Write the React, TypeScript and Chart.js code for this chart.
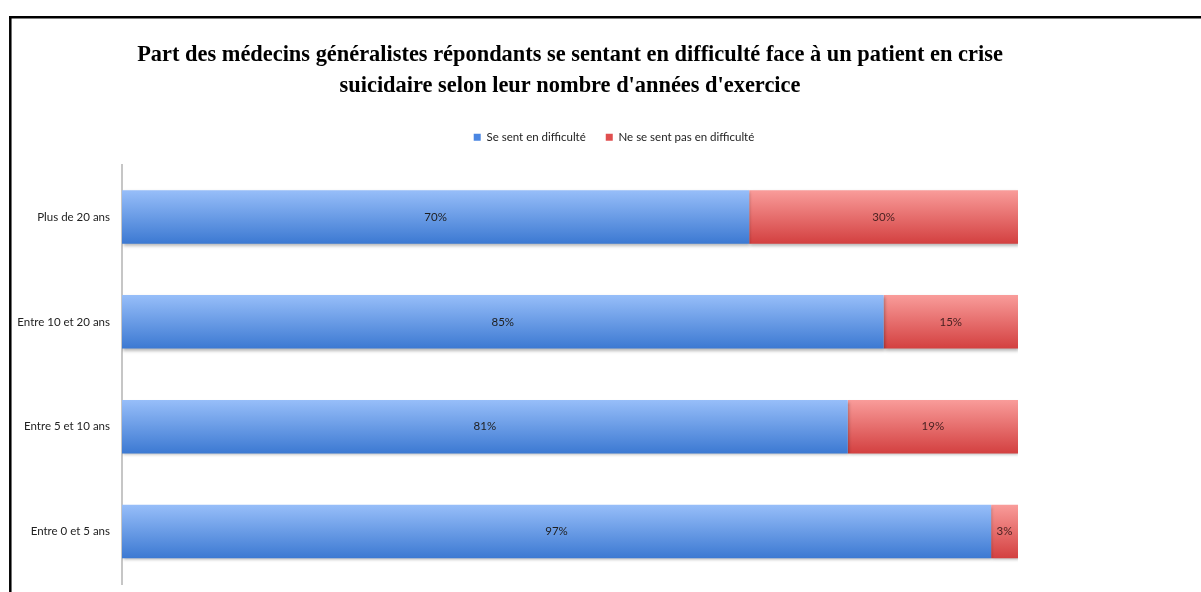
import React, { useEffect, useRef } from "react";
import { Chart, registerables } from "chart.js";

Chart.register(...registerables);

const categories = ["Plus de 20 ans", "Entre 10 et 20 ans", "Entre 5 et 10 ans", "Entre 0 et 5 ans"];
const enDifficulte = [70, 85, 81, 97];
const pasEnDifficulte = [30, 15, 19, 3];
const seriesNames = ["Se sent en difficulté", "Ne se sent pas en difficulté"];
const seriesSolid = ["#4a86e2", "#e04f4f"];
const titleLines = [
  "Part des médecins généralistes répondants se sentant en difficulté face à un patient en crise",
  "suicidaire selon leur nombre d'années d'exercice",
];

const BAR_PCT = 0.51;
const LABEL_FONT = "Lato, 'Open Sans', sans-serif";

function gradientFor(top: string, bottom: string, solid: string) {
  return (ctx: any) => {
    if (ctx.type !== "data") return solid;
    const chart = ctx.chart;
    const ys = chart.scales?.y;
    if (!chart.chartArea || !ys) return solid;
    const c = ys.getPixelForValue(ctx.dataIndex);
    const half = ((ys.bottom - ys.top) / categories.length) * BAR_PCT / 2;
    const g = chart.ctx.createLinearGradient(0, c - half, 0, c + half);
    g.addColorStop(0, top);
    g.addColorStop(1, bottom);
    return g;
  };
}

const framePlugin = {
  id: "frame",
  afterDraw(chart: any) {
    const ctx = chart.ctx;
    ctx.save();
    ctx.strokeStyle = "#000";
    ctx.lineWidth = 2.5;
    ctx.beginPath();
    ctx.moveTo(9, 17.3);
    ctx.lineTo(chart.width, 17.3);
    ctx.moveTo(10.3, 16);
    ctx.lineTo(10.3, chart.height);
    ctx.stroke();
    ctx.restore();
  },
};

const shadowPlugin = {
  id: "barShadow",
  beforeDatasetsDraw(chart: any) {
    const ctx = chart.ctx;
    ctx.save();
    ctx.shadowColor = "rgba(0,0,0,0.28)";
    ctx.shadowBlur = 3;
    ctx.shadowOffsetX = 1;
    ctx.shadowOffsetY = 2;
  },
  afterDatasetsDraw(chart: any) {
    chart.ctx.restore();
  },
};

const valueLabelPlugin = {
  id: "valueLabels",
  afterDraw(chart: any) {
    const ctx = chart.ctx;
    ctx.save();
    ctx.font = `11.5px ${LABEL_FONT}`;
    ctx.textAlign = "center";
    ctx.textBaseline = "middle";
    chart.data.datasets.forEach((ds: any, i: number) => {
      const meta = chart.getDatasetMeta(i);
      ctx.fillStyle = i === 0 ? "#1e1e1e" : "#4a2222";
      meta.data.forEach((el: any, j: number) => {
        const p = el.getCenterPoint();
        ctx.fillText(`${ds.data[j]}%`, p.x, p.y);
      });
    });
    ctx.restore();
  },
};

export default function App() {
  const ref = useRef<HTMLCanvasElement | null>(null);
  useEffect(() => {
    if (!ref.current) return;
    const chart = new Chart(ref.current, {
      type: "bar",
      data: {
        labels: categories,
        datasets: [
          {
            label: seriesNames[0],
            data: enDifficulte,
            backgroundColor: gradientFor("#97bef9", "#3c79d2", seriesSolid[0]) as any,
            borderWidth: 0,
            barPercentage: BAR_PCT,
            categoryPercentage: 1,
          },
          {
            label: seriesNames[1],
            data: pasEnDifficulte,
            backgroundColor: gradientFor("#f99c9a", "#d34040", seriesSolid[1]) as any,
            borderWidth: 0,
            barPercentage: BAR_PCT,
            categoryPercentage: 1,
          },
        ],
      },
      options: {
        indexAxis: "y",
        responsive: false,
        animation: false,
        layout: { padding: { left: 10, right: -17, top: 0, bottom: 8 } },
        scales: {
          x: {
            type: "linear",
            position: "top",
            stacked: true,
            min: 0,
            max: 100,
            display: true,
            grid: { display: false },
            border: { display: false },
            ticks: { display: false },
            afterFit: (s: any) => {
              s.height = 11.5;
              s.paddingLeft = 0;
              s.paddingRight = 0;
            },
          },
          y: {
            type: "category",
            position: "left",
            stacked: true,
            grid: { display: false, drawTicks: false },
            border: { display: true, color: "#c6c6c6", width: 2 },
            ticks: {
              padding: 12,
              color: "#222",
              font: { family: LABEL_FONT, size: 11.5 },
            },
            afterFit: (s: any) => {
              s.width = 112;
              s.paddingTop = 0;
              s.paddingBottom = 0;
            },
          },
          yRight: {
            type: "category",
            position: "right",
            display: true,
            grid: { display: false, drawTicks: false },
            border: { display: false },
            ticks: { display: false },
            afterFit: (s: any) => {
              s.width = 200;
              s.paddingTop = 0;
              s.paddingBottom = 0;
            },
          },
        },
        plugins: {
          title: {
            display: true,
            text: titleLines,
            fullSize: false,
            color: "#000",
            font: { family: "'Liberation Serif', 'Times New Roman', serif", size: 22.4, weight: "bold", lineHeight: 31 / 22.4 },
            padding: { top: 39.5, bottom: 10 },
          },
          legend: {
            display: true,
            position: "top",
            labels: {
              boxWidth: 7,
              boxHeight: 7,
              padding: 20,
              color: "#222",
              font: { family: LABEL_FONT, size: 11.5 },
              generateLabels: (chart: any) => {
                const items = Chart.defaults.plugins.legend.labels.generateLabels(chart);
                items.forEach((it: any, k: number) => {
                  it.fillStyle = seriesSolid[k];
                  it.strokeStyle = seriesSolid[k];
                  it.lineWidth = 0;
                });
                return items;
              },
            },
          },
          tooltip: { enabled: false },
        },
      } as any,
      plugins: [shadowPlugin, valueLabelPlugin, framePlugin],
    });
    return () => chart.destroy();
  }, []);
  return (
    <div style={{ position: "absolute", left: 0, top: 0, width: 1201, height: 592, background: "#fff" }}>
      <canvas ref={ref} width={1201} height={592} style={{ display: "block" }} />
    </div>
  );
}
